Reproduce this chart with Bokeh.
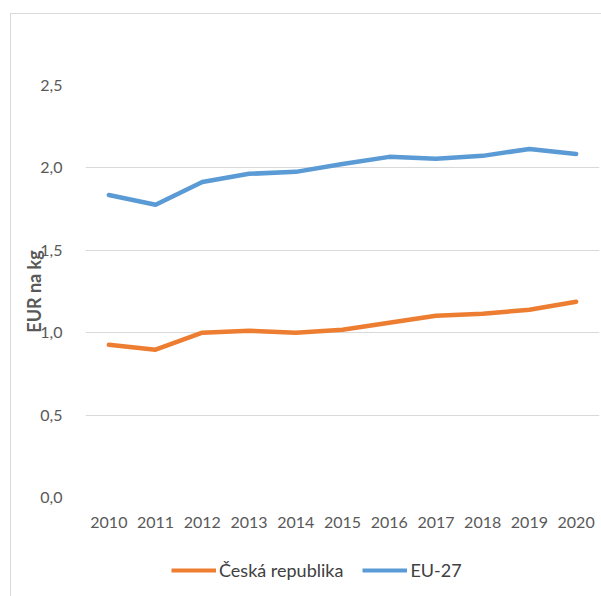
from bokeh.plotting import figure
from bokeh.layouts import column
from bokeh.models import FactorRange, Range1d, FixedTicker, CustomJSTickFormatter, Legend, LegendItem
from bokeh.embed import file_html
from bokeh.resources import INLINE

years = ["2010", "2011", "2012", "2013", "2014", "2015", "2016", "2017", "2018", "2019", "2020"]
cz = [0.927, 0.897, 1.000, 1.012, 1.000, 1.018, 1.060, 1.103, 1.115, 1.139, 1.188]
eu27 = [1.836, 1.776, 1.915, 1.964, 1.976, 2.024, 2.067, 2.055, 2.073, 2.115, 2.085]
y_ticks = [0.0, 0.5, 1.0, 1.5, 2.0, 2.5]
series_names = ["Česká republika", "EU-27"]
colors = ["#ED7D31", "#5B9BD5"]

FONT = "Lato"
GREY = "#595959"

# main chart
p = figure(x_range=FactorRange(factors=years, range_padding=0),
           y_range=Range1d(0, 2.5),
           width=590, height=545, output_backend="svg", toolbar_location=None,
           min_border_left=74, min_border_right=2, min_border_top=71, min_border_bottom=62)
p.outline_line_color = None
p.background_fill_color = "white"
p.border_fill_color = "white"

r_cz = p.line(years, cz, line_color=colors[0], line_width=4.5, line_join="round", line_cap="round")
r_eu = p.line(years, eu27, line_color=colors[1], line_width=4.5, line_join="round", line_cap="round")

p.xgrid.grid_line_color = None
p.ygrid.grid_line_color = "#d9d9d9"
p.ygrid.grid_line_width = 1

p.yaxis.ticker = FixedTicker(ticks=y_ticks)
p.yaxis.formatter = CustomJSTickFormatter(code="return tick.toFixed(1).replace('.', ',');")
for ax in (p.xaxis[0], p.yaxis[0]):
    ax.axis_line_color = None
    ax.major_tick_line_color = None
    ax.minor_tick_line_color = None
    ax.major_label_text_font = FONT
    ax.major_label_text_font_size = "16px"
    ax.major_label_text_color = GREY
p.yaxis.major_label_standoff = 17
p.xaxis.major_label_standoff = 13
p.yaxis.axis_label = "EUR na kg"
p.yaxis.axis_label_text_font = FONT
p.yaxis.axis_label_text_font_style = "bold"
p.yaxis.axis_label_text_font_size = "18px"
p.yaxis.axis_label_text_color = GREY
p.yaxis.axis_label_standoff = -8

# legend strip (series drawn out of view; only the legend is visible)
idx = list(range(len(years)))
lg = figure(width=590, height=37, output_backend="svg", toolbar_location=None,
            x_range=Range1d(0, 1), y_range=Range1d(100, 101),
            x_axis_location=None, y_axis_location=None,
            min_border_left=0, min_border_right=0, min_border_top=0, min_border_bottom=0)
lg.outline_line_color = None
lg.grid.grid_line_color = None
lg.border_fill_color = "white"
s_cz = lg.line(idx, cz, line_color=colors[0], line_width=4)
s_eu = lg.line(idx, eu27, line_color=colors[1], line_width=4)
legend = Legend(items=[LegendItem(label=series_names[0], renderers=[s_cz]),
                       LegendItem(label=series_names[1], renderers=[s_eu])],
                orientation="horizontal", location=(86, 15),
                label_text_font=FONT, label_text_font_size="18px", label_text_color="#404040",
                glyph_width=45, glyph_height=20, label_standoff=3, spacing=19,
                padding=0, margin=0, border_line_color=None, background_fill_alpha=0)
lg.add_layout(legend)

layout = column(p, lg, spacing=0)
layout.margin = (13, 0, 0, 10)
layout.styles = {"border-top": "1px solid #d9d9d9", "border-left": "1px solid #d9d9d9"}

open("out.html", "w").write(file_html(layout, INLINE))
